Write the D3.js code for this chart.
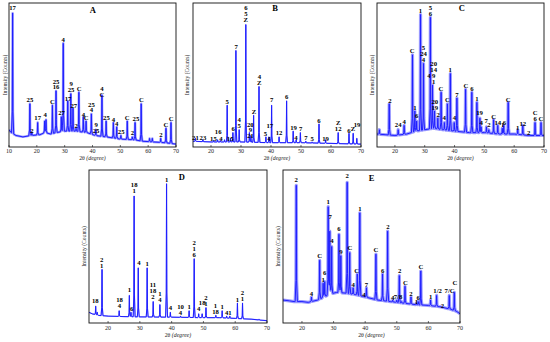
<!DOCTYPE html>
<html><head><meta charset="utf-8">
<script src="https://cdn.jsdelivr.net/npm/d3@7"></script>
<style>body{margin:0;background:#fff}svg{display:block}</style>
</head><body>
<svg id="c" width="550" height="342"></svg>
<script>
// ---------- data (2θ in degrees, intensity in % of panel height) ----------
const ticksA = [10,20,30,40,50,60,70];
const ticksBCDE = [20,30,40,50,60,70];

const baseA = [[10,12],[10.8,10],[12.5,8],[15,7],[18,8],[21,8.5],[23,10],[25,9],[27,10],[30,11],[34,11],[38,10],[41,8],[45,7],[50,5.5],[55,5],[58,4],[62,3.5],[66,3],[70,2]];
const peaksA = [[11.3,93],[17.5,30],[18.2,10],[20.3,17],[22.8,18],[23.3,19],[25.6,29],[26.9,39],[28.8,21],[29.5,72],[31.1,32],[32.2,37],[33.0,27],[34.1,13],[35.1,38],[36.7,21],[37.7,18],[39.6,23],[41.2,12],[43.4,36],[44.9,18],[47.5,17],[48.7,14],[50.2,8],[52.5,18],[54.3,7],[55.3,17],[57.5,30],[60.5,6],[61.5,6],[64.5,6],[66.4,13],[68.2,17]];
const labelsA = [[11.3,95,"17"],[17.5,31,"25"],[18.2,10,"2"],[20.3,18.5,"17"],[23.0,21,"4"],[25.6,30,"C"],[26.9,40,"25|16"],[28.9,22,"27"],[29.5,73,"4"],[31.2,32,"17"],[32.3,38,"9|25"],[33.3,27,"27"],[34.1,13,"2"],[35.2,39,"C"],[36.7,21,"4"],[37.7,18.5,"C"],[39.6,24,"25|4"],[41.3,9.7,"9|25"],[43.4,35,"4|C"],[45.0,19,"25"],[47.5,17.6,"4"],[48.7,14.8,"4"],[50.3,8.8,"25"],[52.5,18.5,"C"],[54.3,8.3,"2"],[55.6,17.8,"25"],[57.6,31,"C"],[64.6,6.7,"2"],[66.4,13.7,"C"],[68.3,17.8,"C"]];

const baseB = [[14,4],[20,3.5],[30,3.5],[40,3],[50,3],[60,2.5],[70,2]];
const peaksB = [[14.8,6],[17.3,5],[20.9,4.5],[22.2,5],[23.1,4.5],[24.5,5],[25.4,29],[26.5,6],[27.3,10],[28.3,67],[29.4,12],[31.6,85],[32.8,10],[33.3,8],[34.2,22],[36.0,42],[38.3,7],[39.3,7],[40.2,29],[42.7,7],[45.2,32],[47.4,11],[48.4,5],[49.8,10],[51.6,4],[53.7,3.5],[56.0,16],[58.2,5],[62.4,10],[66.0,9.5],[67.4,9.5],[68.6,6]];
const labelsB = [[14.8,5,"21"],[17.3,5,"23"],[20.8,4,"15"],[22.4,9.2,"16"],[23.3,4,"4"],[25.4,30,"5"],[26.4,4.4,"15"],[27.4,11,"6"],[28.4,68,"7"],[29.4,13,"4|5"],[31.6,86.6,"6|5|Z"],[33.1,6,"20|9|21"],[34.3,23,"Z"],[36.1,43,"4|Z"],[38.1,7.6,"5"],[39.6,13.2,"17"],[39.3,4.2,"4"],[40.2,31,"7"],[42.7,8,"12"],[45.2,33,"6"],[47.5,12,"19"],[48.3,5,"4"],[49.9,11,"7"],[51.6,4.6,"7"],[53.7,4,"5"],[56.0,17,"6"],[58.2,4.4,"19"],[62.4,11,"Z|12"],[66.0,10,"6"],[67.3,11,"Z"],[68.7,13.7,"19"]];

const baseC = [[14,9],[17,8.5],[20,8],[24,9],[27,11],[30,12],[33,13],[36,12],[40,11],[45,10],[50,10],[55,9],[60,9],[65,8],[70,8]];
const peaksC = [[14.8,12],[18.1,30],[21.1,12],[23.1,15],[25.9,64],[26.7,25],[27.3,18],[28.6,92],[29.6,58],[31.9,90],[32.6,43],[33.3,25],[34.4,20],[35.5,38],[36.6,17],[37.6,30],[38.6,51],[39.9,17],[40.8,34],[43.7,40],[45.8,38],[47.5,31],[48.5,20],[48.9,14],[50.7,14],[51.5,12],[53.1,19],[54.5,15],[56.0,13],[56.5,15],[58.0,31],[61.2,12],[62.9,15],[65.0,8],[67.0,17],[69.0,17]];
const labelsC = [[18.3,30.5,"2"],[21.1,13.7,"24"],[23.1,16.2,"4"],[25.8,65.3,"C"],[26.7,25.9,"1"],[27.3,20,"6"],[28.6,93,"1"],[29.6,59,"5|24|4"],[31.9,91,"5|6"],[31.4,48,"4"],[33.0,44,"20|14|9|1"],[33.4,26,"20|19"],[34.5,21,"2"],[35.4,39,"C"],[36.5,18.5,"4"],[37.6,31,"C"],[38.5,52,"1"],[40.0,18.5,"4"],[40.8,35,"7"],[43.8,41,"C"],[45.8,39,"6"],[47.5,32,"1"],[48.4,22.5,"19"],[48.9,15,"4"],[50.6,17,"7"],[51.5,14,"2"],[53.1,19.4,"C"],[54.5,15,"14"],[56.1,13.7,"1"],[56.7,15.3,"6"],[58.0,31,"C"],[61.2,12,"1"],[62.9,14.8,"12"],[64.9,8.3,"2"],[67.0,17.8,"C|6"],[69.0,17.8,"C"]];

const baseD = [[14,7],[15,6],[17,5],[20,4.5],[25,4.2],[30,4],[40,3.8],[50,3.5],[55,3.5],[60,3],[65,2.5],[70,1.5]];
const peaksD = [[16.1,11],[16.6,7],[18.1,35],[23.5,8],[26.7,18],[27.2,7],[28.2,83],[29.5,36],[32.3,36],[34.2,14],[36.3,12],[38.4,91],[39.6,7],[42.8,4.5],[45.5,8],[47.1,42],[48.5,6],[49.6,6],[50.8,10],[53.9,5],[55.9,8],[57.3,4.5],[58.3,4.5],[60.7,13],[62.3,13],[67.5,2.5]];
const labelsD = [[16.0,12.8,"18"],[18.0,36,"2|1"],[23.6,9.6,"18|4"],[26.7,20,"1"],[27.4,8,"6"],[28.2,85,"18|1"],[29.7,37.8,"4"],[32.3,37.4,"1"],[34.1,15.6,"11|18|2"],[36.3,13.5,"1|4"],[38.4,92.4,"1"],[39.6,8.5,"4"],[42.8,5,"10|4"],[45.5,9,"1"],[47.1,43.3,"2|1|6"],[48.5,8,"4"],[49.6,12,"18"],[50.8,11.3,"2|1"],[53.8,5.9,"1|18"],[55.9,9,"1"],[57.3,5.4,"4"],[58.3,5.4,"1"],[60.7,14,"1"],[62.3,14.6,"2|1"]];

const baseE = [[14,15],[16,14.5],[17.5,14],[20,14],[22,13.5],[25,15],[27,17],[29,19],[31,20],[34,19.5],[37,18.5],[40,17],[44,15],[48,14],[52,13],[56,12],[60,11.5],[64,10.5],[67,9],[69,7.5],[70,6]];
const peaksE = [[18.2,90],[23.0,17],[25.6,41],[26.7,26],[27.2,27],[28.3,76],[28.8,60],[29.4,50],[31.7,58],[32.3,44],[34.3,92],[35.1,46],[36.2,23],[37.5,32],[38.3,72],[39.6,17],[40.4,23],[43.4,45],[45.5,32],[47.1,60],[48.7,15],[50.0,15],[50.8,31],[51.5,14],[52.6,24],[54.5,17],[56.2,13],[56.8,14],[57.6,34],[60.7,15],[62.6,18],[64.4,10],[66.6,18],[68.2,20]];
const labelsE = [[18.2,92.4,"2"],[23.0,17.8,"4"],[25.6,42.4,"C"],[26.7,26.5,"1"],[27.2,31.3,"6"],[28.3,78,"1"],[28.9,68.3,"7"],[29.5,52,"4"],[31.7,60.2,"6"],[32.3,45.4,"9"],[34.3,94.6,"2"],[35.2,47.6,"C"],[36.2,23.3,"4"],[37.3,33,"C"],[38.3,73.3,"1"],[39.6,17.2,"4"],[40.4,23.3,"7"],[43.4,46.1,"C"],[45.5,32.8,"6"],[47.2,61.3,"2"],[48.7,15,"4"],[50.4,15.7,"7/8"],[50.9,32.4,"2"],[52.7,25,"C"],[54.5,17.8,"2"],[56.2,12.4,"1"],[56.8,15,"6"],[57.6,35.2,"C"],[60.7,15.7,"1"],[62.9,19.3,"1/2"],[64.4,9.8,"2"],[66.7,19.3,"7/C"],[68.4,24.8,"C"]];

// ---------- layout ----------
const panels = [
  {name:"A", x0:9,   x1:176, y0:3,   y1:147, dom:[10,70], ticks:ticksA,    base:baseA, peaks:peaksA, labels:labelsA, w:0.4,  band:2.4, tx:92.7,  ty:12.8, yx:5},
  {name:"B", x0:193, x1:361, y0:3,   y1:147, dom:[14,70], ticks:ticksBCDE, base:baseB, peaks:peaksB, labels:labelsB, w:0.3,  band:1.2, tx:275,   ty:10.5, yx:187},
  {name:"C", x0:377, x1:544, y0:3,   y1:147, dom:[14,70], ticks:ticksBCDE, base:baseC, peaks:peaksC, labels:labelsC, w:0.35, band:3.2, tx:461.7, ty:10.5, yx:372},
  {name:"D", x0:89,  x1:267, y0:170, y1:323, dom:[14,70], ticks:ticksBCDE, base:baseD, peaks:peaksD, labels:labelsD, w:0.3,  band:1.2, tx:181.7, ty:180,  yx:84},
  {name:"E", x0:283, x1:460, y0:170, y1:323, dom:[14,70], ticks:ticksBCDE, base:baseE, peaks:peaksE, labels:labelsE, w:0.35, band:3.2, tx:371.7, ty:181,  yx:278}
];

const svg = d3.select("#c");
const serif = "'Liberation Serif','Times New Roman',serif";
const lineColor = "#1f1fff";

panels.forEach((p, i) => {
  const g = svg.append("g");
  const x = d3.scaleLinear().domain(p.dom).range([p.x0, p.x1]);
  const y = d3.scaleLinear().domain([0, 100]).range([p.y1, p.y0]);
  const baseS = d3.scaleLinear().domain(p.base.map(d => d[0])).range(p.base.map(d => d[1])).clamp(true);
  const peakS = p.peaks.map(([c, h]) => {
    const a = h - baseS(c);
    return d3.scaleLinear()
      .domain([c - p.w, c - p.w * 0.3, c, c + p.w * 0.3, c + p.w])
      .range([0, a * 0.18, a, a * 0.18, 0]).clamp(true);
  });
  let xs = p.base.map(d => d[0]);
  peakS.forEach(s => xs.push(...s.domain()));
  xs.push(p.dom[0], p.dom[1]);
  xs = Array.from(new Set(xs.filter(v => v >= p.dom[0] && v <= p.dom[1]))).sort((a, b) => a - b);
  const pts = xs.map(v => [v, baseS(v) + (d3.max(peakS, s => s(v)) || 0)]);

  const clipId = "clip" + i;
  svg.append("clipPath").attr("id", clipId).append("rect")
    .attr("x", p.x0).attr("y", p.y0).attr("width", p.x1 - p.x0).attr("height", p.y1 - p.y0);

  const line = d3.line().x(d => x(d[0])).y(d => y(d[1]));
  const pg = g.append("g").attr("clip-path", `url(#${clipId})`);
  pg.append("path").attr("d", line(pts)).attr("fill", "none")
    .attr("stroke", lineColor).attr("stroke-opacity", 0.45)
    .attr("stroke-width", p.band).attr("stroke-linejoin", "round");
  pg.append("path").attr("d", line(pts)).attr("fill", "none")
    .attr("stroke", lineColor).attr("stroke-width", 1).attr("stroke-linejoin", "round");

  // frame
  g.append("rect").attr("x", p.x0).attr("y", p.y0)
    .attr("width", p.x1 - p.x0).attr("height", p.y1 - p.y0)
    .attr("fill", "none").attr("stroke", "#111").attr("stroke-width", 0.9);

  // ticks
  g.selectAll(".tk").data(p.ticks).join("line")
    .attr("x1", d => x(d)).attr("x2", d => x(d))
    .attr("y1", p.y1).attr("y2", p.y1 - 2)
    .attr("stroke", "#111").attr("stroke-width", 0.6);
  g.selectAll(".tl").data(p.ticks).join("text")
    .attr("x", d => x(d)).attr("y", p.y1 + (p.y0 < 100 ? 6.3 : 6.8))
    .attr("text-anchor", "middle").attr("font-family", serif).attr("font-size", 6)
    .attr("fill", "#222").text(d => d);

  // axis titles
  const xt = g.append("text").attr("x", (p.x0 + p.x1) / 2).attr("y", p.y1 + (p.y0 < 100 ? 13.2 : 14))
    .attr("text-anchor", "middle").attr("font-family", serif).attr("font-size", 5.8).attr("fill", "#222");
  xt.append("tspan").text("2θ ");
  xt.append("tspan").attr("font-style", "italic").text("(degree)");
  g.append("text")
    .attr("transform", `translate(${p.yx},${(p.y0 + p.y1) / 2}) rotate(-90)`)
    .attr("text-anchor", "middle").attr("dy", "0.35em")
    .attr("font-family", serif).attr("font-size", 5.6).attr("fill", "#222")
    .text("Intensity (Counts)");

  // panel letter
  g.append("text").attr("x", p.tx).attr("y", p.ty).attr("text-anchor", "middle")
    .attr("font-family", serif).attr("font-weight", "bold").attr("font-size", 8.5)
    .attr("fill", "#000").text(p.name);

  // peak labels
  p.labels.forEach(([c, b, t]) => {
    const lines = t.split("|");
    const n = lines.length;
    const tx = g.append("text").attr("text-anchor", "middle")
      .attr("font-family", serif).attr("font-weight", "bold").attr("font-size", 6.7).attr("fill", "#000");
    lines.forEach((s, k) => {
      tx.append("tspan").attr("x", x(c)).attr("y", y(b) - (n - 1 - k) * 5.9).text(s);
    });
  });
});
</script>
</body></html>
